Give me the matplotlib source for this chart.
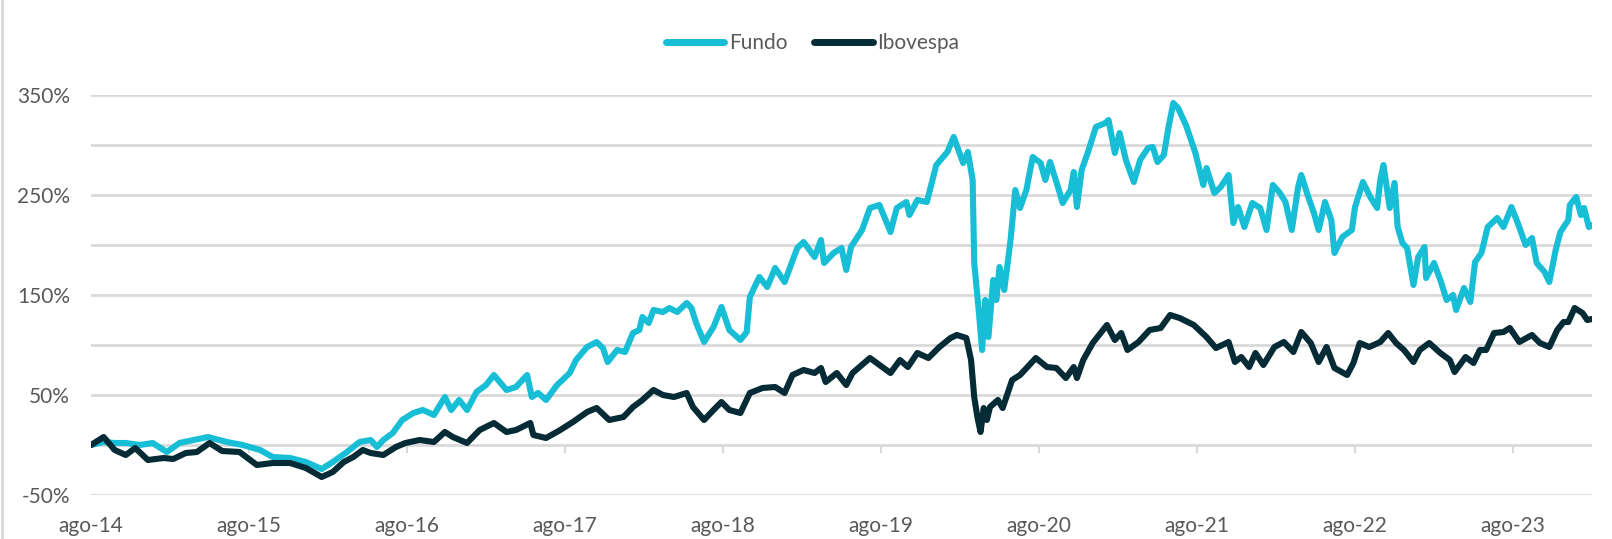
import matplotlib.pyplot as plt
from matplotlib.lines import Line2D

# anos desde ago-14 / retorno acumulado (%)
fundo_t = [0.0, 0.08, 0.15, 0.22, 0.31, 0.39, 0.48, 0.56, 0.65, 0.74, 0.86, 0.96, 1.07, 1.15,
           1.26, 1.36, 1.46, 1.53, 1.62, 1.70, 1.77, 1.81, 1.85, 1.91, 1.97, 2.04, 2.10, 2.17,
           2.24, 2.28, 2.33, 2.38, 2.44, 2.50, 2.55, 2.63, 2.69, 2.76, 2.79, 2.83, 2.88, 2.95,
           3.03, 3.07, 3.14, 3.20, 3.24, 3.27, 3.33, 3.38, 3.43, 3.47, 3.49, 3.53, 3.56, 3.62,
           3.66, 3.71, 3.77, 3.80, 3.83, 3.88, 3.94, 3.99, 4.04, 4.11, 4.15, 4.17, 4.23, 4.28,
           4.33, 4.39, 4.47, 4.51, 4.58, 4.62, 4.64, 4.70, 4.75, 4.78, 4.81, 4.88, 4.93, 4.99,
           5.06, 5.10, 5.16, 5.18, 5.23, 5.29, 5.35, 5.42, 5.46, 5.49, 5.52, 5.55, 5.58, 5.59,
           5.62, 5.64, 5.66, 5.68, 5.71, 5.73, 5.75, 5.78, 5.82, 5.85, 5.88, 5.92, 5.96, 6.01,
           6.04, 6.07, 6.12, 6.15, 6.20, 6.22, 6.24, 6.27, 6.31, 6.36, 6.42, 6.44, 6.48, 6.51,
           6.55, 6.60, 6.64, 6.69, 6.72, 6.75, 6.79, 6.82, 6.85, 6.88, 6.93, 6.99, 7.04, 7.06,
           7.11, 7.15, 7.20, 7.23, 7.26, 7.30, 7.35, 7.40, 7.44, 7.48, 7.52, 7.56, 7.60, 7.64,
           7.66, 7.70, 7.74, 7.77, 7.81, 7.85, 7.87, 7.92, 7.98, 8.00, 8.05, 8.10, 8.14, 8.16,
           8.18, 8.22, 8.25, 8.27, 8.30, 8.33, 8.37, 8.40, 8.44, 8.45, 8.50, 8.54, 8.58, 8.62,
           8.64, 8.69, 8.73, 8.76, 8.80, 8.84, 8.90, 8.94, 8.99, 9.03, 9.08, 9.12, 9.15, 9.20,
           9.23, 9.27, 9.30, 9.35, 9.36, 9.40, 9.43, 9.45, 9.48, 9.50]
fundo = [0, 3, 2, 2, 0, 2, -7, 2, 5, 8, 3, 0, -5, -12,
         -13, -17, -24, -17, -7, 3, 5, -2, 5, 12, 25, 32, 35, 30,
         48, 35, 45, 35, 53, 60, 70, 55, 58, 70, 48, 52, 45, 60,
         72, 85, 98, 103, 97, 83, 95, 93, 112, 115, 128, 122, 135, 133,
         137, 133, 142, 137, 122, 103, 118, 138, 115, 105, 113, 148, 168, 158,
         177, 163, 197, 203, 188, 205, 182, 192, 197, 175, 198, 215, 237, 240,
         213, 237, 243, 230, 245, 243, 280, 293, 308, 295, 282, 293, 265, 182,
         132, 95, 145, 108, 165, 145, 178, 155, 205, 255, 237, 255, 288, 282,
         265, 283, 258, 242, 255, 273, 238, 275, 293, 318, 322, 325, 292, 312,
         285, 263, 285, 297, 298, 283, 290, 318, 342, 337, 320, 292, 260, 277,
         252, 258, 270, 222, 238, 218, 242, 237, 215, 260, 253, 243, 215, 258,
         270, 250, 232, 215, 243, 225, 192, 208, 215, 238, 263, 247, 237, 265,
         280, 237, 262, 218, 202, 197, 160, 188, 198, 167, 182, 165, 145, 150,
         135, 157, 143, 183, 192, 218, 227, 218, 238, 222, 200, 207, 182, 173,
         163, 195, 213, 225, 240, 248, 230, 237, 218, 220]

ibov_t = [0.0, 0.08, 0.15, 0.22, 0.28, 0.36, 0.46, 0.52, 0.60, 0.67, 0.75, 0.83, 0.94, 1.05,
          1.15, 1.26, 1.36, 1.46, 1.53, 1.60, 1.66, 1.72, 1.77, 1.85, 1.93, 1.99, 2.08, 2.17,
          2.24, 2.29, 2.38, 2.46, 2.55, 2.63, 2.69, 2.78, 2.80, 2.88, 2.97, 3.05, 3.14, 3.20,
          3.28, 3.37, 3.43, 3.49, 3.56, 3.62, 3.69, 3.77, 3.81, 3.88, 3.94, 3.99, 4.04, 4.11,
          4.17, 4.25, 4.33, 4.39, 4.44, 4.51, 4.58, 4.62, 4.65, 4.72, 4.78, 4.82, 4.93, 5.06,
          5.12, 5.17, 5.23, 5.30, 5.37, 5.44, 5.48, 5.54, 5.57, 5.59, 5.61, 5.63, 5.65, 5.67,
          5.69, 5.74, 5.77, 5.83, 5.88, 5.98, 6.05, 6.11, 6.17, 6.22, 6.24, 6.28, 6.34, 6.43,
          6.48, 6.52, 6.56, 6.63, 6.70, 6.77, 6.83, 6.89, 6.98, 7.06, 7.12, 7.20, 7.24, 7.28,
          7.33, 7.37, 7.42, 7.49, 7.55, 7.61, 7.66, 7.72, 7.77, 7.82, 7.87, 7.95, 7.99, 8.03,
          8.09, 8.16, 8.21, 8.26, 8.31, 8.37, 8.41, 8.47, 8.54, 8.60, 8.63, 8.70, 8.75, 8.79,
          8.83, 8.88, 8.94, 8.98, 9.04, 9.12, 9.17, 9.23, 9.28, 9.32, 9.35, 9.39, 9.44, 9.47,
          9.50]
ibov = [0, 8, -5, -10, -3, -15, -13, -14, -8, -7, 2, -6, -7, -20,
        -18, -18, -23, -32, -27, -17, -12, -5, -8, -10, -2, 2, 5, 3,
        13, 8, 2, 15, 22, 13, 15, 22, 10, 7, 15, 23, 33, 37,
        25, 28, 38, 45, 55, 50, 48, 52, 38, 25, 35, 43, 35, 32,
        52, 57, 58, 52, 70, 75, 72, 77, 63, 72, 60, 72, 87, 72,
        85, 78, 92, 87, 98, 107, 110, 107, 85, 48, 28, 13, 37, 25,
        38, 45, 37, 65, 70, 87, 78, 77, 67, 78, 67, 85, 102, 120,
        105, 112, 95, 103, 115, 117, 130, 127, 120, 108, 97, 103, 83, 88,
        78, 92, 80, 98, 103, 93, 113, 102, 83, 98, 77, 70, 82, 102,
        98, 103, 112, 102, 95, 83, 95, 102, 92, 85, 73, 88, 82, 95,
        95, 112, 113, 117, 103, 110, 102, 98, 115, 123, 123, 137, 132, 125,
        126]

x_ticks = list(range(10))
x_labels = ['ago-14', 'ago-15', 'ago-16', 'ago-17', 'ago-18',
            'ago-19', 'ago-20', 'ago-21', 'ago-22', 'ago-23']
y_labels = [-50, 50, 150, 250, 350]

cor_fundo = '#17BED6'
cor_ibov = '#052B36'
cor_texto = '#595959'
cor_grade = '#D9D9D9'

plt.rcParams['font.family'] = ['Lato', 'DejaVu Sans']

fig = plt.figure(figsize=(16.12, 5.39), dpi=100)
ax = fig.add_axes([91 / 1612, 44 / 539, 1501 / 1612, 400 / 539])

ax.plot(fundo_t, fundo, color=cor_fundo, lw=4.4, solid_joinstyle='round',
        solid_capstyle='round', label='Fundo', zorder=3)
ax.plot(ibov_t, ibov, color=cor_ibov, lw=4.4, solid_joinstyle='round',
        solid_capstyle='round', label='Ibovespa', zorder=4)

ax.set_xlim(0, 9.5)
ax.set_ylim(-50, 350)

# grade a cada 50%, rótulos a cada 100%
ax.set_yticks(y_labels)
ax.set_yticklabels([f'{v}%' for v in y_labels])
ax.set_yticks(range(0, 350, 100), minor=True)
ax.grid(axis='y', which='both', color=cor_grade, lw=2)
ax.set_axisbelow(True)

ax.set_xticks(x_ticks)
ax.set_xticklabels(x_labels)
ax.tick_params(axis='x', length=0, pad=15, labelsize=15, labelcolor=cor_texto)
ax.tick_params(axis='y', which='both', length=0, pad=15, labelsize=15, labelcolor=cor_texto)
for s in ax.spines.values():
    s.set_visible(False)

# marcas do eixo x na linha do 0%
sec = ax.secondary_xaxis(50 / 400)
sec.set_xticks(x_ticks[1:])
sec.set_xticklabels([])
sec.tick_params(axis='x', length=6, width=1.5, color=cor_grade, direction='out')
sec.spines['bottom'].set_visible(False)

leg = fig.legend(loc='center', bbox_to_anchor=(0.504, 0.92), ncol=2, frameon=False,
                 fontsize=15, labelcolor=cor_texto, handlelength=2.8, handletextpad=0.2,
                 columnspacing=1.3)
for h in leg.get_lines():
    h.set_linewidth(5)

fig.add_artist(Line2D([0.001, 0.001], [0, 1], color=cor_grade, lw=2))

fig.savefig('out.png', dpi=100)
